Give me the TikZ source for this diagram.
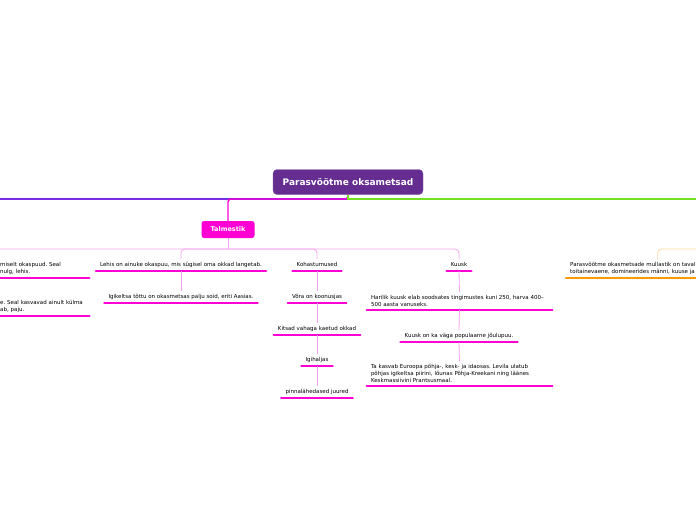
\documentclass[tikz,border=0pt]{standalone}
\usepackage{fontspec}
\setmainfont{DejaVu Sans}
\usepackage{xcolor}
\usepackage{tikz}
\usetikzlibrary{calc}
\definecolor{mainpurple}{HTML}{662D91}
\definecolor{talmpink}{HTML}{FF00D4}
\definecolor{linkpink}{HTML}{F5A3EE}
\definecolor{trunkviolet}{HTML}{7A2BE6}
\definecolor{trunkgreen}{HTML}{72E020}
\definecolor{soilorange}{HTML}{FF9A00}
\definecolor{soillink}{HTML}{FFD9A0}
\newcommand\leaffont{\fontsize{5.5}{6.8}\selectfont}
\frenchspacing

\begin{document}
\begin{tikzpicture}[x=1pt, y=-1pt,
    central/.style={rectangle, rounded corners=4pt, fill=mainpurple, draw=mainpurple!80, text=white, minimum width=150pt, minimum height=25pt, font=\fontsize{9}{10}\selectfont\bfseries},
    topicbox/.style={rectangle, rounded corners=2.5pt, fill=talmpink, text=white, minimum width=53pt, minimum height=17pt, font=\fontsize{6.5}{8}\selectfont\bfseries},
    uline/.style={draw=#1, line width=2.6pt, line cap=round},
    leaf/.style={anchor=south, font=\leaffont, inner xsep=4pt, inner ysep=3.2pt, text height=4pt, text depth=1.3pt, align=center,
        append after command={(\tikzlastnode.south west) edge[uline=#1] (\tikzlastnode.south east)}},
    leaf/.default=talmpink,
    multi/.style={text height=, text depth=, align=left},
    link/.style={draw=linkpink, line width=0.8pt, rounded corners=4pt},
    trunk/.style={draw=#1, line width=1.4pt}
]
\useasboundingbox (0,0) rectangle (696,520);

% main topic and the trunk lines
\node[central] (central) at (348,182) {Parasvöötme oksametsad};
\coordinate (trunkline) at (0,199);
\coordinate (leftmain) at (-10,199);
\coordinate (rightmain) at (710,199);
\node[topicbox] (talm) at (228,229.5) {Talmestik};

\draw[trunk=trunkviolet] (central.south) |- (leftmain);
\draw[trunk=talmpink, rounded corners=3pt] (central.south) -- (central.south |- trunkline) -| (talm.north);
\draw[trunk=trunkgreen] (central.south) |- (rightmain);

% Talmestik subtree
\coordinate (bus) at (0,249);
\coordinate (leftsub) at (-20,262);
\node[leaf, multi, text width=85pt, minimum width=93pt, anchor=south west] (okas) at (-4,278) {miselt okaspuud. Seal\\nulg, lehis.};
\node[leaf, multi, text width=85pt, minimum width=93pt, anchor=south west] (kulm) at (-4,316) {e. Seal kasvavad ainult külma\\ab, paju.};

\node[leaf] (lehis) at (181,271) {Lehis on ainuke okaspuu, mis sügisel oma okkad langetab.};
\node[leaf] (igik) at (181,303) {Igikeltsa tõttu on okasmetsas palju soid, eriti Aasias.};

\node[leaf] (koh) at (317,271) {Kohastumused};
\node[leaf] (vora) at (317,303) {Võra on koonusjas};
\node[leaf] (kitsad) at (317,335) {Kitsad vahaga kaetud okkad};
\node[leaf] (igih) at (317,366) {Igihaljas};
\node[leaf] (juured) at (317,398) {pinnalähedased juured};

\node[leaf] (kuusk) at (459,271) {Kuusk};
\node[leaf, multi, text width=177pt] (harilik) at (459.5,310) {Harilik kuusk elab soodsates tingimustes kuni 250, harva 400–\\500 aasta vanuseks.};
\node[leaf] (joulu) at (459,342) {Kuusk on ka väga populaarne jõulupuu.};
\node[leaf, multi, text width=177pt] (levila) at (459.5,386) {Ta kasvab Euroopa põhja-, kesk- ja idaosas. Levila ulatub\\põhjas igikeltsa piirini, lõunas Põhja-Kreekani ning läänes\\Keskmassiivini Prantsusmaal.};

\draw[link] (talm.south) -- (talm.south |- bus);
\draw[link] (talm.south |- bus) -| (leftsub);
\draw[link] (talm.south |- bus) -| (lehis.north);
\draw[link] (talm.south |- bus) -| (koh.north);
\draw[link] (talm.south |- bus) -| (kuusk.north);

\draw[link] (lehis.south) -- (igik.north);
\draw[link] (koh.south) -- (vora.north);
\draw[link] (vora.south) -- (kitsad.north);
\draw[link] (kitsad.south) -- (igih.north);
\draw[link] (igih.south) -- (juured.north);
\draw[link] (kuusk.south) -- (harilik.north);
\draw[link] (harilik.south) -- (joulu.north);
\draw[link] (joulu.south) -- (levila.north);

% soil branch on the right
\coordinate (rightsub) at (710,249);
\node[leaf=soilorange, multi, text width=175pt, anchor=south west] (muld) at (566,278) {Parasvöötme okasmetsade mullastik on tavali\\toitainevaene, domineerides männi, kuuse ja};
\draw[link, draw=soillink] (rightsub) -| (muld.north);
\end{tikzpicture}
\end{document}
